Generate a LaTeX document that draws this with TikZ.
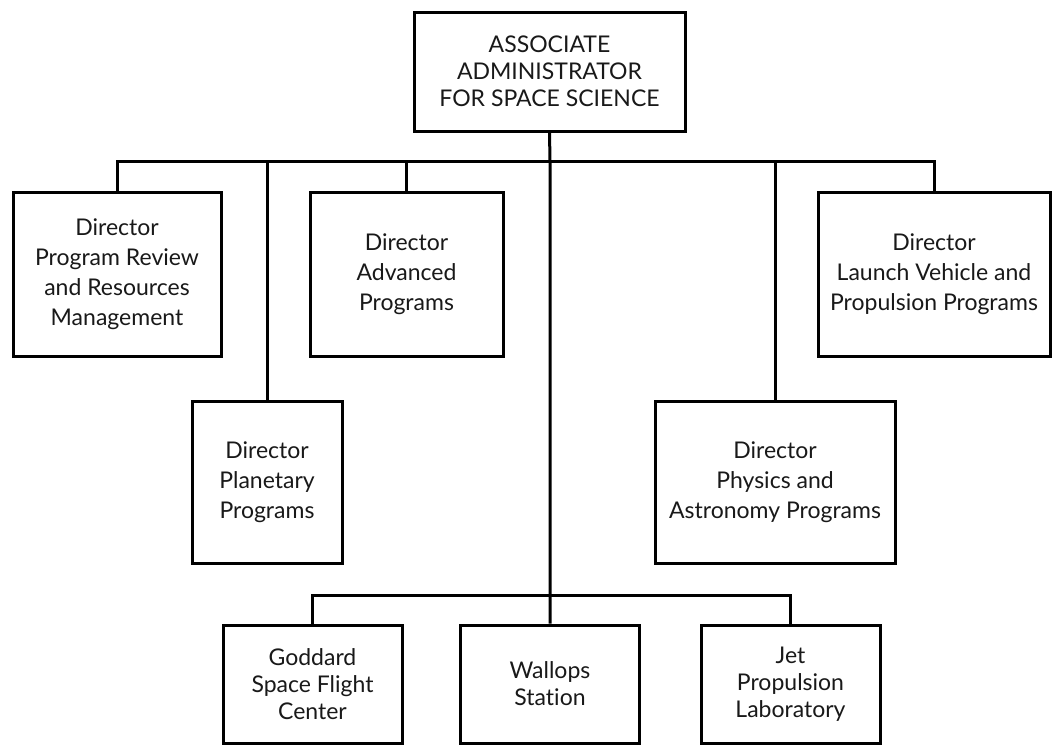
\documentclass[tikz,border=0pt]{standalone}
\usepackage{fontspec}
\setmainfont{Lato}[Ligatures=NoCommon]
\begin{document}
\begin{tikzpicture}[x=1pt,y=-1pt,
  box/.style={draw=black, line width=3pt, align=center, inner sep=0pt,
    font=\fontsize{23}{30}\selectfont, text=black!90},
  tbox/.style={box, font=\fontsize{23}{27}\selectfont},
  link/.style={draw=black, line width=3pt}]
\useasboundingbox (0,0) rectangle (1052,747);
\fill[white] (0,0) rectangle (1052,747);
\node[tbox, minimum width=271pt, minimum height=119pt] (top) at (549.5,71.5) {ASSOCIATE\\ADMINISTRATOR\\FOR SPACE SCIENCE};
\node[box, minimum width=208pt, minimum height=164pt] (prr) at (117,274) {Director\\Program Review\\and Resources\\Management};
\node[box, minimum width=193pt, minimum height=164pt] (adv) at (406.5,274) {Director\\Advanced\\Programs};
\node[box, minimum width=232pt, minimum height=164pt] (lvp) at (934,274) {Director\\Launch Vehicle and\\Propulsion Programs};
\node[box, minimum width=150pt, minimum height=162pt] (plan) at (267,482) {Director\\Planetary\\Programs};
\node[box, minimum width=240pt, minimum height=162pt] (phys) at (775,482) {Director\\Physics and\\Astronomy Programs};
\node[tbox, minimum width=179pt, minimum height=118pt] (gsfc) at (312.5,684) {Goddard\\Space Flight\\Center};
\node[tbox, minimum width=179pt, minimum height=118pt] (wal) at (550,684) {Wallops\\Station};
\node[tbox, minimum width=179pt, minimum height=118pt] (jpl) at (790.5,684) {Jet\\Propulsion\\Laboratory};
\coordinate (bus) at (550,161);
\coordinate (bbus) at (550,595);
\draw[link] (top.south) -- (bus) -- (bbus) -- (wal.north);
\draw[link] (prr.north) |- (bus) -| (lvp.north);
\draw[link] (plan.north) -- (plan.north |- bus);
\draw[link] (adv.north) -- (adv.north |- bus);
\draw[link] (phys.north) -- (phys.north |- bus);
\draw[link] (gsfc.north) |- (bbus) -| (jpl.north);
\end{tikzpicture}
\end{document}
